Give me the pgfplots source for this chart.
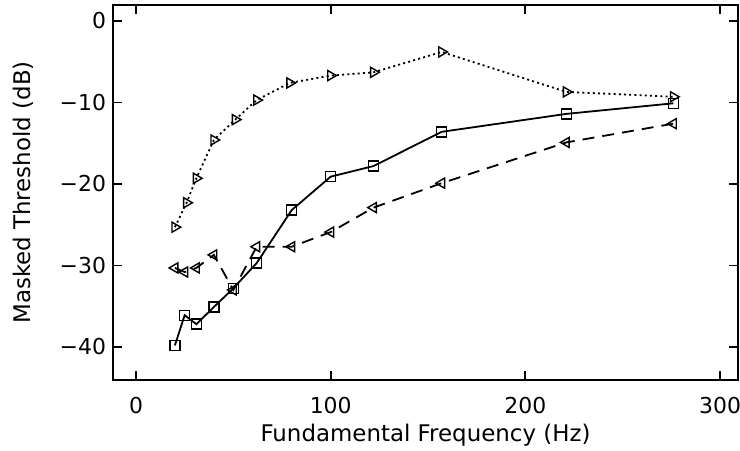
\documentclass[border=0pt]{standalone}
\usepackage{fontspec}
\setmainfont{DejaVu Sans}
\usepackage{pgfplots}
\pgfplotsset{compat=1.18}
\pgfplotsset{
  frame/.style={
    scale only axis,
    width=312.5bp, height=187.5bp,
    xmin=-11.8, xmax=309.2,
    ymin=-44.05, ymax=1.96,
    xtick={0,100,200,300},
    ytick={-40,-30,-20,-10,0},
    tick align=inside,
    major tick length=4.5bp,
    every tick/.style={line width=0.9bp, black},
  },
}
\begin{document}
\begin{tikzpicture}
\begin{axis}[
  frame,
  clip=false,
  tick pos=left,
  yticklabels={−40,−30,−20,−10,0},
  tick label style={font=\fontsize{11}{13}\selectfont},
  xticklabel style={yshift=-5bp},
  yticklabel style={xshift=0bp},
  /pgf/number format/assume math mode=true,
  xlabel={Fundamental Frequency (Hz)},
  ylabel={Masked Threshold (dB)},
  label style={font=\fontsize{11.5}{13}\selectfont},
  xlabel style={yshift=1.5bp},
  ylabel style={yshift=6.5bp},
]
% frame drawn a little heavier than the default
\draw[line width=1.2bp] (rel axis cs:0,0) rectangle (rel axis cs:1,1);
% solid line, squares
\addplot[black, line width=0.9bp, mark=square, mark size=2.5bp,
  mark options={solid, line width=0.7bp, fill=white}] coordinates {
  (20,-39.8) (25,-36.1) (31,-37.2) (40,-35.1) (50,-32.8) (62,-29.7)
  (80,-23.2) (100,-19.1) (122,-17.8) (157,-13.6) (221,-11.4) (276,-10.1)
};
% dashed line, left-pointing triangles
\addplot[black, line width=0.9bp, dash pattern=on 6bp off 4bp,
  mark=triangle, mark size=2.9bp,
  mark options={solid, rotate=90, line width=0.7bp, fill=white}] coordinates {
  (20,-30.3) (25,-30.8) (31,-30.3) (40,-28.7) (50,-33.0) (62,-27.7)
  (80,-27.7) (100,-25.9) (122,-22.9) (157,-19.9) (221,-14.9) (276,-12.6)
};
% dotted line, right-pointing triangles
\addplot[black, line width=0.9bp, dash pattern=on 1bp off 1.6bp,
  mark=triangle, mark size=2.9bp,
  mark options={solid, rotate=-90, line width=0.7bp, fill=white}] coordinates {
  (20,-25.3) (26,-22.3) (31,-19.3) (40,-14.6) (51,-12.1) (62,-9.7)
  (79,-7.6) (100,-6.7) (122,-6.3) (157,-3.8) (221,-8.7) (276,-9.3)
};
\end{axis}
% top and right ticks
\begin{axis}[
  frame,
  tick pos=right,
  xticklabels={}, yticklabels={},
  axis line style={line width=1.2bp},
]
\end{axis}
\pgfresetboundingbox
\path (-56.5bp,-35.5bp) rectangle (313.5bp,190bp);
\end{tikzpicture}
\end{document}
